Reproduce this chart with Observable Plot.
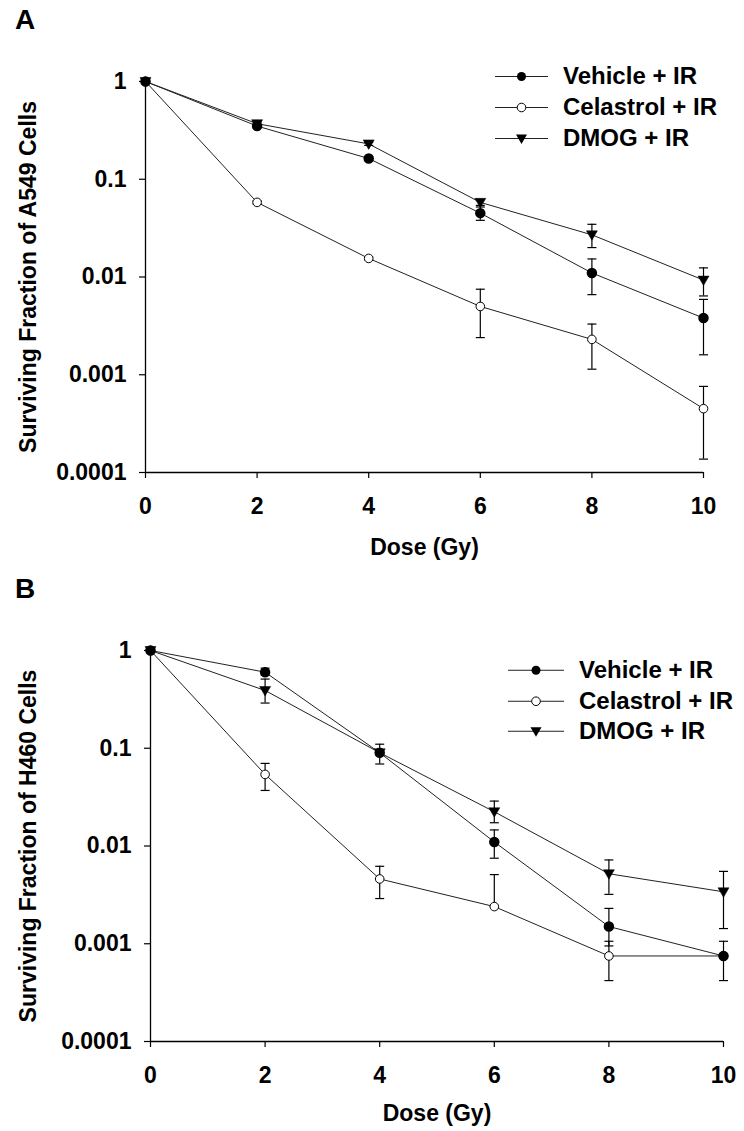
<!DOCTYPE html>
<html><head><meta charset="utf-8">
<script src="https://cdn.jsdelivr.net/npm/d3@7"></script>
<script src="https://cdn.jsdelivr.net/npm/@observablehq/plot@0.6"></script>
<style>
body{margin:0;background:#fff;font-family:"Liberation Sans",Arial,sans-serif;}
#root{position:relative;width:744px;height:1131px;overflow:hidden;}
.panel{position:absolute;left:0;}
.letter{position:absolute;font-weight:bold;font-size:28px;line-height:1;}
.legend{position:absolute;font-weight:bold;font-size:24px;line-height:1;}
.legend .row{display:flex;align-items:center;}
.legend svg{display:block;}
</style></head><body><div id="root"></div>
<script>
// ---- data ----
const doses = [0, 2, 4, 6, 8, 10];
const seriesNames = ["Vehicle + IR", "Celastrol + IR", "DMOG + IR"];
const yTicks = [1, 0.1, 0.01, 0.001, 0.0001];
const yTickLabels = ["1", "0.1", "0.01", "0.001", "0.0001"];
const xTicks = [0, 2, 4, 6, 8, 10];

// Panel A (A549)
const vehicleA    = [1, 0.35, 0.163, 0.045, 0.011, 0.0038];
const vehicleA_lo = [1, 0.335, 0.156, 0.038, 0.0066, 0.0016];
const vehicleA_hi = [1, 0.365, 0.17, 0.052, 0.0153, 0.0059];
const celastrolA    = [1, 0.058, 0.0155, 0.0050, 0.0023, 0.00045];
const celastrolA_lo = [1, 0.056, 0.0150, 0.0024, 0.00114, 0.000137];
const celastrolA_hi = [1, 0.060, 0.0160, 0.0075, 0.0033, 0.00076];
const dmogA    = [1, 0.37, 0.23, 0.058, 0.027, 0.0093];
const dmogA_lo = [1, 0.355, 0.222, 0.054, 0.020, 0.0064];
const dmogA_hi = [1, 0.385, 0.238, 0.062, 0.0346, 0.0124];

// Panel B (H460)
const vehicleB    = [1, 0.60, 0.09, 0.011, 0.0015, 0.00075];
const vehicleB_lo = [1, 0.56, 0.069, 0.0075, 0.00095, 0.00075];
const vehicleB_hi = [1, 0.66, 0.11, 0.0146, 0.0023, 0.00075];
const celastrolB    = [1, 0.054, 0.0046, 0.0024, 0.00075, 0.00075];
const celastrolB_lo = [1, 0.037, 0.0029, 0.0024, 0.00042, 0.00042];
const celastrolB_hi = [1, 0.070, 0.0062, 0.0051, 0.00106, 0.00106];
const dmogB    = [1, 0.39, 0.09, 0.0224, 0.0052, 0.0034];
const dmogB_lo = [1, 0.29, 0.085, 0.0173, 0.0032, 0.00143];
const dmogB_hi = [1, 0.51, 0.095, 0.0288, 0.0072, 0.0055];

// ---- helpers ----
function rows(name, v, lo, hi) {
  return doses.map((d, i) => ({series: name, dose: d, value: v[i], lo: lo[i], hi: hi[i]}));
}
const capSymbol = {draw(ctx) { ctx.moveTo(-4.5, 0); ctx.lineTo(4.5, 0); }};
const triDown = {draw(ctx) { ctx.moveTo(-5.5, -4); ctx.lineTo(5.5, -4); ctx.lineTo(0, 5.5); ctx.closePath(); }};
const FONT = "Liberation Sans, Arial, sans-serif";

function makePanel(cfg) {
  const veh = rows(seriesNames[0], ...cfg.veh);
  const cel = rows(seriesNames[1], ...cfg.cel);
  const dmo = rows(seriesNames[2], ...cfg.dmo);
  const all = [...veh, ...cel, ...dmo];
  const err = all.filter(d => d.hi > d.lo);
  return Plot.plot({
    width: 744, height: cfg.height,
    marginLeft: cfg.ml, marginRight: cfg.mr, marginTop: cfg.mt, marginBottom: cfg.mb,
    style: {fontFamily: FONT, fontSize: "23px", fontWeight: "bold", color: "black", background: "white"},
    x: {domain: [0, 10]},
    y: {type: "log", domain: [0.0001, 1]},
    marks: [
      Plot.axisY(yTicks, {tickSize: 6, tickPadding: 13, tickFormat: d => yTickLabels[yTicks.indexOf(d)], label: null, strokeWidth: 1.2}),
      Plot.axisX(xTicks, {tickSize: 6, tickPadding: 19, label: null, strokeWidth: 1.2}),
      Plot.ruleX([0], {stroke: "black", strokeWidth: 1.3}),
      Plot.ruleY([0.0001], {stroke: "black", strokeWidth: 1.3}),
      Plot.text([cfg.ylabel], {text: d => d, frameAnchor: "left", textAnchor: "middle", lineAnchor: "middle", rotate: -90, dx: cfg.ylabelDx, fontSize: 23, fontWeight: "bold"}),
      Plot.text(["Dose (Gy)"], {text: d => d, frameAnchor: "bottom", textAnchor: "middle", lineAnchor: "middle", dy: cfg.xlabelDy, fontSize: 23, fontWeight: "bold"}),
      Plot.line(all, {x: "dose", y: "value", z: "series", stroke: "#222", strokeWidth: 1}),
      Plot.ruleX(err, {x: "dose", y1: "lo", y2: "hi", stroke: "black", strokeWidth: 1.2}),
      Plot.dot(err, {x: "dose", y: "hi", symbol: capSymbol, stroke: "black", fill: "none", strokeWidth: 1.2}),
      Plot.dot(err, {x: "dose", y: "lo", symbol: capSymbol, stroke: "black", fill: "none", strokeWidth: 1.2}),
      Plot.dot(cel, {x: "dose", y: "value", r: 4.3, fill: "white", stroke: "black", strokeWidth: 1}),
      Plot.dot(veh, {x: "dose", y: "value", r: 4.5, fill: "black", stroke: "black"}),
      Plot.dot(dmo, {x: "dose", y: "value", symbol: triDown, fill: "black", stroke: "black", strokeWidth: 0.5})
    ]
  });
}

function legend(left, top, lineW, rowH) {
  const div = document.createElement("div");
  div.className = "legend";
  div.style.left = left + "px";
  div.style.top = top + "px";
  const mk = [
    `<circle cx="${lineW/2}" cy="${rowH/2}" r="4.5" fill="black"/>`,
    `<circle cx="${lineW/2}" cy="${rowH/2}" r="4.3" fill="white" stroke="black"/>`,
    `<path d="M${lineW/2-5.5},${rowH/2-4}L${lineW/2+5.5},${rowH/2-4}L${lineW/2},${rowH/2+5.5}Z" fill="black"/>`
  ];
  seriesNames.forEach((n, i) => {
    const r = document.createElement("div");
    r.className = "row";
    r.style.height = rowH + "px";
    r.innerHTML = `<svg width="${lineW}" height="${rowH}"><line x1="0" x2="${lineW}" y1="${rowH/2}" y2="${rowH/2}" stroke="#222" stroke-width="1"/>${mk[i]}</svg><span style="margin-left:15px">${n}</span>`;
    div.appendChild(r);
  });
  return div;
}

const root = document.getElementById("root");

const pA = makePanel({
  height: 565, ml: 145, mr: 41, mt: 81, mb: 93,
  veh: [vehicleA, vehicleA_lo, vehicleA_hi],
  cel: [celastrolA, celastrolA_lo, celastrolA_hi],
  dmo: [dmogA, dmogA_lo, dmogA_hi],
  ylabel: "Surviving Fraction of A549 Cells", ylabelDx: -117, xlabelDy: 75
});
const wA = document.createElement("div"); wA.className = "panel"; wA.style.top = "0px"; wA.appendChild(pA); root.appendChild(wA);

const pB = makePanel({
  height: 566, ml: 150, mr: 21, mt: 85, mb: 90,
  veh: [vehicleB, vehicleB_lo, vehicleB_hi],
  cel: [celastrolB, celastrolB_lo, celastrolB_hi],
  dmo: [dmogB, dmogB_lo, dmogB_hi],
  ylabel: "Surviving Fraction of H460 Cells", ylabelDx: -122, xlabelDy: 72
});
const wB = document.createElement("div"); wB.className = "panel"; wB.style.top = "565px"; wB.appendChild(pB); root.appendChild(wB);

const lA = document.createElement("div"); lA.className = "letter"; lA.textContent = "A"; lA.style.left = "15px"; lA.style.top = "6px"; root.appendChild(lA);
const lB = document.createElement("div"); lB.className = "letter"; lB.textContent = "B"; lB.style.left = "15px"; lB.style.top = "575px"; root.appendChild(lB);

root.appendChild(legend(495, 60.5, 53, 31));
root.appendChild(legend(508, 655, 56, 30.5));
</script>
</body></html>
